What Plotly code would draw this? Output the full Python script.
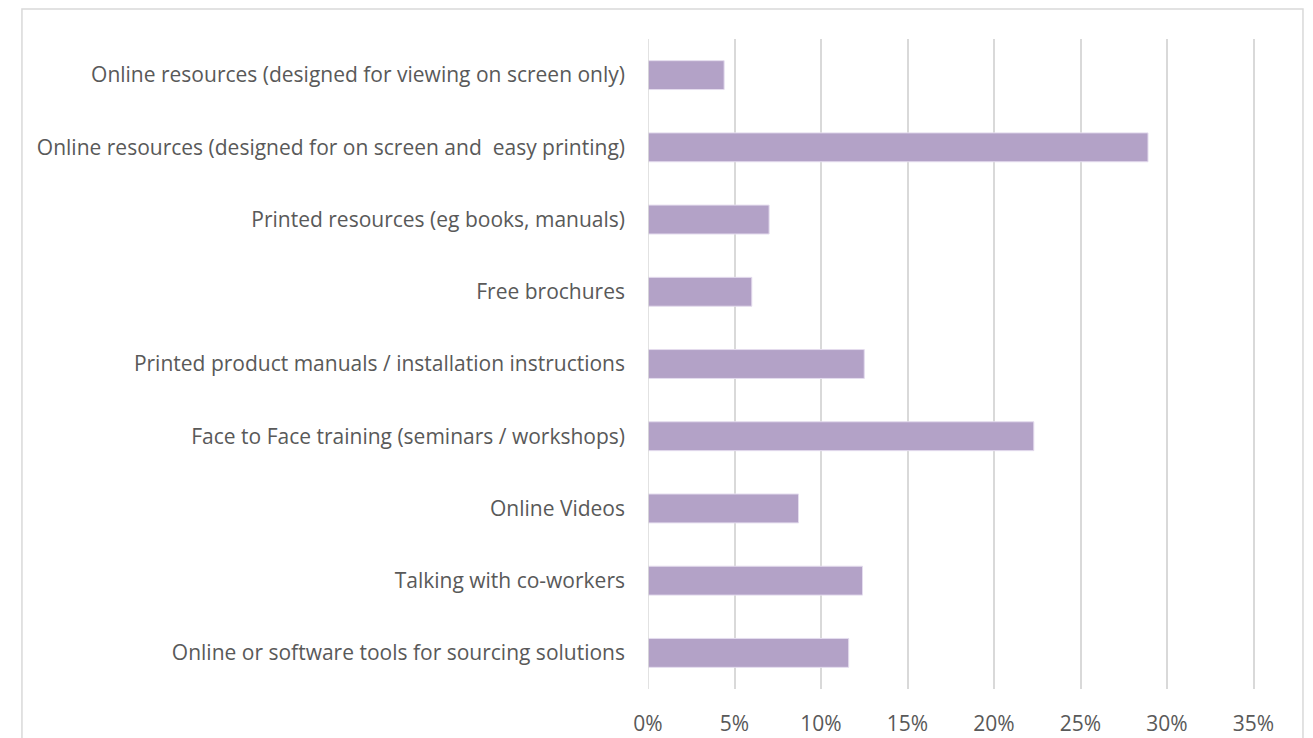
import plotly.graph_objects as go

categories = [
    "Online resources (designed for viewing on screen only)",
    "Online resources (designed for on screen and  easy printing)",
    "Printed resources (eg books, manuals)",
    "Free brochures",
    "Printed product manuals / installation instructions",
    "Face to Face training (seminars / workshops)",
    "Online Videos",
    "Talking with co-workers",
    "Online or software tools for sourcing solutions",
]
shares = [0.044, 0.289, 0.070, 0.060, 0.125, 0.223, 0.087, 0.124, 0.116]
tick_vals = [0, 0.05, 0.10, 0.15, 0.20, 0.25, 0.30, 0.35]
tick_text = ["0%", "5%", "10%", "15%", "20%", "25%", "30%", "35%"]

bar_color = "#b3a2c7"
text_color = "#595959"
grid_color = "#d9d9d9"

# the page body adds an 8px offset, so the figure is laid out 8px smaller
fig = go.Figure(
    go.Bar(
        x=shares,
        y=categories,
        orientation="h",
        marker=dict(color=bar_color, line=dict(color="#e4dcee", width=1)),
        hoverinfo="x+y",
    )
)

fig.update_layout(
    width=1305,
    height=730,
    margin=dict(l=640, r=56, t=31, b=49),
    paper_bgcolor="white",
    plot_bgcolor="white",
    bargap=0.6,
    showlegend=False,
    font=dict(family="Open Sans, sans-serif", size=21, color=text_color),
)

fig.update_xaxes(
    range=[0, 0.352],
    tickvals=tick_vals,
    ticktext=tick_text,
    showgrid=True,
    gridcolor=grid_color,
    gridwidth=1.5,
    zeroline=False,
    showline=False,
    ticks="",
    ticklabelstandoff=20,
    automargin=False,
    fixedrange=True,
)
fig.update_yaxes(
    autorange="reversed",
    showgrid=False,
    zeroline=False,
    showline=False,
    ticks="",
    ticklabelstandoff=22,
    automargin=False,
    fixedrange=True,
)

# left axis line drawn in the same grey as the gridlines
fig.add_shape(type="line", xref="x", yref="paper", x0=0, x1=0, y0=0, y1=1,
              line=dict(color=grid_color, width=1.5))

# outer chart border (Excel chart area), bottom edge runs off the page
fig.add_shape(type="rect", xref="paper", yref="paper",
              x0=-1.028, x1=1.0755, y0=-0.12, y1=1.046,
              line=dict(color="#d9d9d9", width=1.5), layer="below")

fig.write_html("out.html")
